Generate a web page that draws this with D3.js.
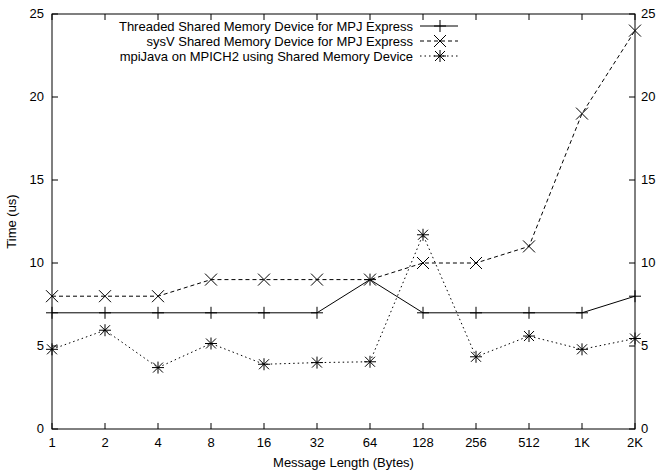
<!DOCTYPE html>
<html>
<head>
<meta charset="utf-8">
<script src="https://cdn.jsdelivr.net/npm/d3@7"></script>
<style>
  body { margin: 0; background: #fff; }
  text { font-family: "Liberation Sans", Arial, sans-serif; font-size: 13px; fill: #000; }
</style>
</head>
<body>
<svg id="chart" width="659" height="473"></svg>
<script>
const sizes = ['1', '2', '4', '8', '16', '32', '64', '128', '256', '512', '1K', '2K'];
const threaded = [7, 7, 7, 7, 7, 7, 9, 7, 7, 7, 7, 8];
const sysv = [8, 8, 8, 9, 9, 9, 9, 10, 10, 11, 19, 24];
const mpijava = [4.8, 5.95, 3.7, 5.15, 3.9, 4.0, 4.05, 11.7, 4.35, 5.6, 4.8, 5.45];
const yTicks = [0, 5, 10, 15, 20, 25];
const seriesNames = [
    'Threaded Shared Memory Device for MPJ Express',
    'sysV Shared Memory Device for MPJ Express',
    'mpiJava on MPICH2 using Shared Memory Device'
];

const svg = d3.select('#chart');
const plotL = 52, plotR = 635, plotT = 14, plotB = 429;

const x = d3.scalePoint().domain(sizes).range([plotL, plotR]);
const y = d3.scaleLinear().domain([0, 25]).range([plotB, plotT]);

// frame
svg.append('rect')
    .attr('x', plotL).attr('y', plotT)
    .attr('width', plotR - plotL).attr('height', plotB - plotT)
    .attr('fill', 'none').attr('stroke', '#000').attr('stroke-width', 1);

// ticks (inward, mirrored)
const tl = 6;
sizes.forEach(s => {
    svg.append('line').attr('x1', x(s)).attr('x2', x(s)).attr('y1', plotB).attr('y2', plotB - tl).attr('stroke', '#000');
    svg.append('line').attr('x1', x(s)).attr('x2', x(s)).attr('y1', plotT).attr('y2', plotT + tl).attr('stroke', '#000');
    svg.append('text').attr('x', x(s)).attr('y', plotB + 18).attr('text-anchor', 'middle').text(s);
});
yTicks.forEach(v => {
    svg.append('line').attr('x1', plotL).attr('x2', plotL + tl).attr('y1', y(v)).attr('y2', y(v)).attr('stroke', '#000');
    svg.append('line').attr('x1', plotR).attr('x2', plotR - tl).attr('y1', y(v)).attr('y2', y(v)).attr('stroke', '#000');
    svg.append('text').attr('x', plotL - 8).attr('y', y(v) + 4).attr('text-anchor', 'end').text(v);
    svg.append('text').attr('x', plotR + 6).attr('y', y(v) + 4).attr('text-anchor', 'start').text(v);
});

// axis titles
svg.append('text').attr('x', (plotL + plotR) / 2).attr('y', 467).attr('text-anchor', 'middle').text('Message Length (Bytes)');
svg.append('text').attr('transform', 'translate(16,' + ((plotT + plotB) / 2) + ') rotate(-90)')
    .attr('text-anchor', 'middle').text('Time (us)');

// markers
function plus(g, cx, cy) {
    g.append('path').attr('d', `M${cx - 6},${cy}H${cx + 6}M${cx},${cy - 6}V${cy + 6}`).attr('stroke', '#000').attr('fill', 'none');
}
function cross(g, cx, cy) {
    const r = 6;
    g.append('path').attr('d', `M${cx - r},${cy - r}L${cx + r},${cy + r}M${cx - r},${cy + r}L${cx + r},${cy - r}`).attr('stroke', '#000').attr('fill', 'none');
}
function star(g, cx, cy) {
    plus(g, cx, cy);
    const r = 5;
    g.append('path').attr('d', `M${cx - r},${cy - r}L${cx + r},${cy + r}M${cx - r},${cy + r}L${cx + r},${cy - r}`).attr('stroke', '#000').attr('fill', 'none');
}

const series = [
    { name: seriesNames[0], values: threaded, dash: null, marker: plus },
    { name: seriesNames[1], values: sysv, dash: '4,3', marker: cross },
    { name: seriesNames[2], values: mpijava, dash: '1.5,3', marker: star }
];

const line = d3.line().x((d, i) => x(sizes[i])).y(d => y(d));
const plot = svg.append('g');

series.forEach((s, k) => {
    plot.append('path')
        .datum(s.values)
        .attr('d', line)
        .attr('fill', 'none')
        .attr('stroke', '#000')
        .attr('stroke-width', 1)
        .attr('stroke-dasharray', s.dash);
    s.values.forEach((v, i) => s.marker(plot, x(sizes[i]), y(v)));

    // legend
    const ly = 26 + k * 15;
    svg.append('text').attr('x', 413).attr('y', ly + 5).attr('text-anchor', 'end').text(s.name);
    svg.append('line').attr('x1', 420).attr('x2', 458).attr('y1', ly).attr('y2', ly)
        .attr('stroke', '#000').attr('stroke-dasharray', s.dash);
    s.marker(svg, 440, ly);
});
</script>
</body>
</html>
